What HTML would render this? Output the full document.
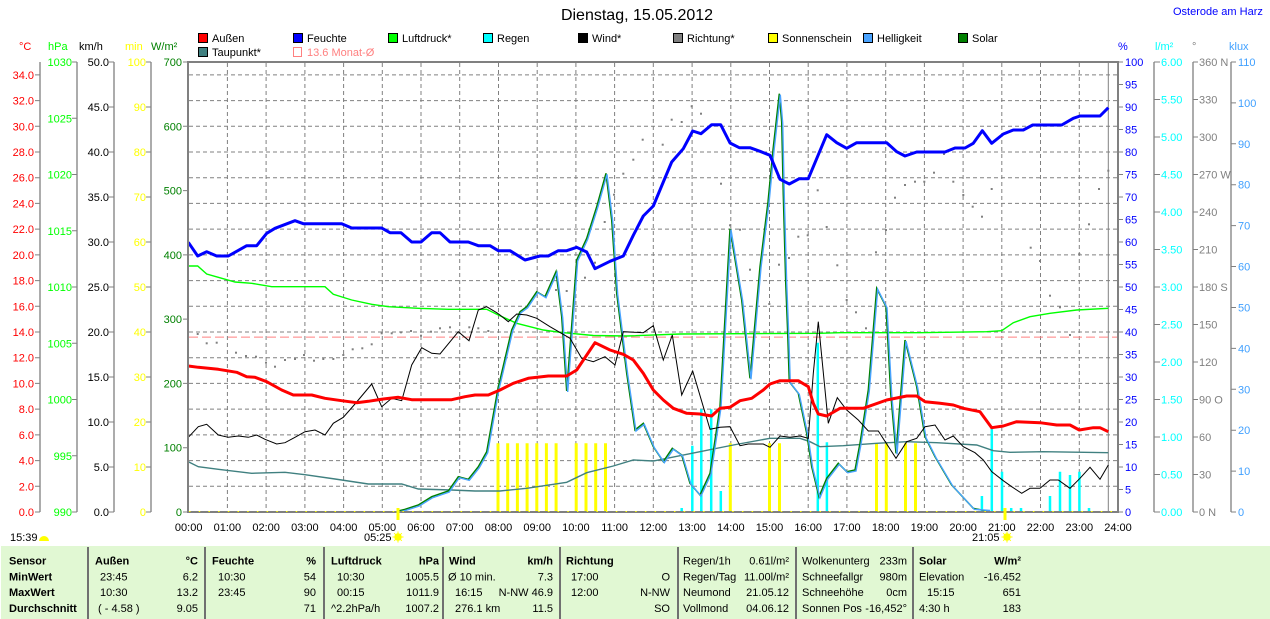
<!DOCTYPE html>
<html><head><meta charset="utf-8"><style>
html,body{margin:0;padding:0;background:#fff;}
svg{display:block;font-family:"Liberation Sans",sans-serif;}
</style></head><body>
<svg width="1270" height="619" viewBox="0 0 1270 619" xmlns="http://www.w3.org/2000/svg">
<rect width="1270" height="619" fill="#fff"/>
<!-- title -->
<text x="637" y="20" font-size="16" text-anchor="middle" fill="#000">Dienstag, 15.05.2012</text>
<text x="1173" y="15" font-size="11" fill="#0000ff">Osterode am Harz</text>

<!-- legend -->
<g font-size="11" stroke-width="1">
<rect x="198.5" y="33.5" width="9" height="9" fill="#ff0000" stroke="#000"/><text x="212" y="42">Außen</text>
<rect x="293.5" y="33.5" width="9" height="9" fill="#0000ff" stroke="#000"/><text x="307" y="42">Feuchte</text>
<rect x="388.5" y="33.5" width="9" height="9" fill="#00ff00" stroke="#000"/><text x="402" y="42">Luftdruck*</text>
<rect x="483.5" y="33.5" width="9" height="9" fill="#00ffff" stroke="#000"/><text x="497" y="42">Regen</text>
<rect x="578.5" y="33.5" width="9" height="9" fill="#000" stroke="#000"/><text x="592" y="42">Wind*</text>
<rect x="673.5" y="33.5" width="9" height="9" fill="#808080" stroke="#000"/><text x="687" y="42">Richtung*</text>
<rect x="768.5" y="33.5" width="9" height="9" fill="#ffff00" stroke="#000"/><text x="782" y="42">Sonnenschein</text>
<rect x="863.5" y="33.5" width="9" height="9" fill="#4aa3ff" stroke="#000"/><text x="877" y="42">Helligkeit</text>
<rect x="958.5" y="33.5" width="9" height="9" fill="#008000" stroke="#000"/><text x="972" y="42">Solar</text>
<rect x="198.5" y="47.5" width="9" height="9" fill="#408080" stroke="#000"/><text x="212" y="56">Taupunkt*</text>
<rect x="293.5" y="47.5" width="8" height="9" fill="none" stroke="#ff8080"/><text x="307" y="56" fill="#ff8080">13.6 Monat-Ø</text>
</g>

<!-- unit labels -->
<g font-size="11">
<text x="19" y="50" fill="#ff0000">°C</text>
<text x="48" y="50" fill="#00ff00">hPa</text>
<text x="79" y="50" fill="#000">km/h</text>
<text x="125" y="50" fill="#ffff00">min</text>
<text x="151" y="50" fill="#008000">W/m²</text>
<text x="1118" y="50" fill="#0000ff">%</text>
<text x="1155" y="50" fill="#00ffff">l/m²</text>
<text x="1192" y="50" fill="#808080">°</text>
<text x="1229" y="50" fill="#40a0ff">klux</text>
</g>

<!-- axis lines -->
<g stroke="#808080" stroke-width="1.3">
<line x1="40" y1="62" x2="40" y2="512"/>
<line x1="77" y1="62" x2="77" y2="512"/>
<line x1="114" y1="62" x2="114" y2="512"/>
<line x1="151" y1="62" x2="151" y2="512"/>
<line x1="1154" y1="62" x2="1154" y2="512"/>
<line x1="1193" y1="62" x2="1193" y2="512"/>
<line x1="1231" y1="62" x2="1231" y2="512"/>
</g>

<!-- gridlines -->
<g stroke="#808080" stroke-width="1" stroke-dasharray="4 3">
<line x1="189" x2="1117" y1="486.3" y2="486.3"/><line x1="189" x2="1117" y1="460.6" y2="460.6"/>
<line x1="189" x2="1117" y1="434.9" y2="434.9"/><line x1="189" x2="1117" y1="409.1" y2="409.1"/>
<line x1="189" x2="1117" y1="383.4" y2="383.4"/><line x1="189" x2="1117" y1="357.7" y2="357.7"/>
<line x1="189" x2="1117" y1="332" y2="332"/><line x1="189" x2="1117" y1="306.3" y2="306.3"/>
<line x1="189" x2="1117" y1="280.6" y2="280.6"/><line x1="189" x2="1117" y1="254.9" y2="254.9"/>
<line x1="189" x2="1117" y1="229.1" y2="229.1"/><line x1="189" x2="1117" y1="203.4" y2="203.4"/>
<line x1="189" x2="1117" y1="177.7" y2="177.7"/><line x1="189" x2="1117" y1="152" y2="152"/>
<line x1="189" x2="1117" y1="126.3" y2="126.3"/><line x1="189" x2="1117" y1="100.6" y2="100.6"/>
<line x1="189" x2="1117" y1="74.9" y2="74.9"/>
<line y1="63" y2="511" x1="227.4" x2="227.4"/><line y1="63" y2="511" x1="266.1" x2="266.1"/>
<line y1="63" y2="511" x1="304.9" x2="304.9"/><line y1="63" y2="511" x1="343.6" x2="343.6"/>
<line y1="63" y2="511" x1="382.3" x2="382.3"/><line y1="63" y2="511" x1="421" x2="421"/>
<line y1="63" y2="511" x1="459.7" x2="459.7"/><line y1="63" y2="511" x1="498.5" x2="498.5"/>
<line y1="63" y2="511" x1="537.2" x2="537.2"/><line y1="63" y2="511" x1="575.9" x2="575.9"/>
<line y1="63" y2="511" x1="614.6" x2="614.6"/><line y1="63" y2="511" x1="653.3" x2="653.3"/>
<line y1="63" y2="511" x1="692.1" x2="692.1"/><line y1="63" y2="511" x1="730.8" x2="730.8"/>
<line y1="63" y2="511" x1="769.5" x2="769.5"/><line y1="63" y2="511" x1="808.2" x2="808.2"/>
<line y1="63" y2="511" x1="846.9" x2="846.9"/><line y1="63" y2="511" x1="885.7" x2="885.7"/>
<line y1="63" y2="511" x1="924.4" x2="924.4"/><line y1="63" y2="511" x1="963.1" x2="963.1"/>
<line y1="63" y2="511" x1="1001.8" x2="1001.8"/><line y1="63" y2="511" x1="1040.5" x2="1040.5"/>
<line y1="63" y2="511" x1="1079.3" x2="1079.3"/>
</g>
<line x1="1108.3" y1="62" x2="1108.3" y2="512" stroke="#808080" stroke-width="1"/>

<!-- ticks -->
<g stroke="#808080" stroke-width="1">
<path d="M35 512H40M35 486.3H40M35 460.6H40M35 434.9H40M35 409.1H40M35 383.4H40M35 357.7H40M35 332H40M35 306.3H40M35 280.6H40M35 254.9H40M35 229.1H40M35 203.4H40M35 177.7H40M35 152H40M35 126.3H40M35 100.6H40M35 74.9H40"/>
<path d="M72 512H77M72 455.75H77M72 399.5H77M72 343.25H77M72 287H77M72 230.75H77M72 174.5H77M72 118.25H77M72 62H77"/>
<path d="M109 512H114M109 467H114M109 422H114M109 377H114M109 332H114M109 287H114M109 242H114M109 197H114M109 152H114M109 107H114M109 62H114"/>
<path d="M146 512H151M146 467H151M146 422H151M146 377H151M146 332H151M146 287H151M146 242H151M146 197H151M146 152H151M146 107H151M146 62H151"/>
<path d="M183 512H188M183 447.7H188M183 383.4H188M183 319.1H188M183 254.9H188M183 190.6H188M183 126.3H188M183 62H188"/>
<path d="M1118 512H1123M1118 489.5H1123M1118 467H1123M1118 444.5H1123M1118 422H1123M1118 399.5H1123M1118 377H1123M1118 354.5H1123M1118 332H1123M1118 309.5H1123M1118 287H1123M1118 264.5H1123M1118 242H1123M1118 219.5H1123M1118 197H1123M1118 174.5H1123M1118 152H1123M1118 129.5H1123M1118 107H1123M1118 84.5H1123M1118 62H1123"/>
<path d="M1154 512H1160M1154 474.5H1160M1154 437H1160M1154 399.5H1160M1154 362H1160M1154 324.5H1160M1154 287H1160M1154 249.5H1160M1154 212H1160M1154 174.5H1160M1154 137H1160M1154 99.5H1160M1154 62H1160"/>
<path d="M1193 512H1198M1193 474.5H1198M1193 437H1198M1193 399.5H1198M1193 362H1198M1193 324.5H1198M1193 287H1198M1193 249.5H1198M1193 212H1198M1193 174.5H1198M1193 137H1198M1193 99.5H1198M1193 62H1198"/>
<path d="M1231 512H1236M1231 471.1H1236M1231 430.2H1236M1231 389.3H1236M1231 348.4H1236M1231 307.5H1236M1231 266.5H1236M1231 225.6H1236M1231 184.7H1236M1231 143.8H1236M1231 102.9H1236M1231 62H1236"/>
</g>

<g font-size="11" text-anchor="end" fill="#ff0000">
<text x="34" y="516">0.0</text><text x="34" y="490.3">2.0</text><text x="34" y="464.6">4.0</text><text x="34" y="438.9">6.0</text>
<text x="34" y="413.1">8.0</text><text x="34" y="387.4">10.0</text><text x="34" y="361.7">12.0</text><text x="34" y="336">14.0</text>
<text x="34" y="310.3">16.0</text><text x="34" y="284.6">18.0</text><text x="34" y="258.9">20.0</text><text x="34" y="233.1">22.0</text>
<text x="34" y="207.4">24.0</text><text x="34" y="181.7">26.0</text><text x="34" y="156">28.0</text><text x="34" y="130.3">30.0</text>
<text x="34" y="104.6">32.0</text><text x="34" y="78.9">34.0</text>
</g>
<g font-size="11" text-anchor="end" fill="#00ff00">
<text x="72" y="516">990</text><text x="72" y="459.75">995</text><text x="72" y="403.5">1000</text><text x="72" y="347.25">1005</text>
<text x="72" y="291">1010</text><text x="72" y="234.75">1015</text><text x="72" y="178.5">1020</text><text x="72" y="122.25">1025</text><text x="72" y="66">1030</text>
</g>
<g font-size="11" text-anchor="end" fill="#000">
<text x="109" y="516">0.0</text><text x="109" y="471">5.0</text><text x="109" y="426">10.0</text><text x="109" y="381">15.0</text>
<text x="109" y="336">20.0</text><text x="109" y="291">25.0</text><text x="109" y="246">30.0</text><text x="109" y="201">35.0</text>
<text x="109" y="156">40.0</text><text x="109" y="111">45.0</text><text x="109" y="66">50.0</text>
</g>
<g font-size="11" text-anchor="end" fill="#ffff00">
<text x="146" y="516">0</text><text x="146" y="471">10</text><text x="146" y="426">20</text><text x="146" y="381">30</text>
<text x="146" y="336">40</text><text x="146" y="291">50</text><text x="146" y="246">60</text><text x="146" y="201">70</text>
<text x="146" y="156">80</text><text x="146" y="111">90</text><text x="146" y="66">100</text>
</g>
<g font-size="11" text-anchor="end" fill="#008000">
<text x="182" y="516">0</text><text x="182" y="451.7">100</text><text x="182" y="387.4">200</text><text x="182" y="323.1">300</text>
<text x="182" y="258.9">400</text><text x="182" y="194.6">500</text><text x="182" y="130.3">600</text><text x="182" y="66">700</text>
</g>
<g font-size="11" fill="#0000ff">
<text x="1125" y="516">0</text><text x="1125" y="493.5">5</text><text x="1125" y="471">10</text><text x="1125" y="448.5">15</text>
<text x="1125" y="426">20</text><text x="1125" y="403.5">25</text><text x="1125" y="381">30</text><text x="1125" y="358.5">35</text>
<text x="1125" y="336">40</text><text x="1125" y="313.5">45</text><text x="1125" y="291">50</text><text x="1125" y="268.5">55</text>
<text x="1125" y="246">60</text><text x="1125" y="223.5">65</text><text x="1125" y="201">70</text><text x="1125" y="178.5">75</text>
<text x="1125" y="156">80</text><text x="1125" y="133.5">85</text><text x="1125" y="111">90</text><text x="1125" y="88.5">95</text>
<text x="1125" y="66">100</text>
</g>
<g font-size="11" fill="#00ffff">
<text x="1161" y="516">0.00</text><text x="1161" y="478.5">0.50</text><text x="1161" y="441">1.00</text><text x="1161" y="403.5">1.50</text>
<text x="1161" y="366">2.00</text><text x="1161" y="328.5">2.50</text><text x="1161" y="291">3.00</text><text x="1161" y="253.5">3.50</text>
<text x="1161" y="216">4.00</text><text x="1161" y="178.5">4.50</text><text x="1161" y="141">5.00</text><text x="1161" y="103.5">5.50</text>
<text x="1161" y="66">6.00</text>
</g>
<g font-size="11" fill="#808080">
<text x="1199" y="516">0 N</text><text x="1199" y="478.5">30</text><text x="1199" y="441">60</text><text x="1199" y="403.5">90 O</text>
<text x="1199" y="366">120</text><text x="1199" y="328.5">150</text><text x="1199" y="291">180 S</text><text x="1199" y="253.5">210</text>
<text x="1199" y="216">240</text><text x="1199" y="178.5">270 W</text><text x="1199" y="141">300</text><text x="1199" y="103.5">330</text>
<text x="1199" y="66">360 N</text>
</g>
<g font-size="11" fill="#40a0ff">
<text x="1238" y="516">0</text><text x="1238" y="475.1">10</text><text x="1238" y="434.2">20</text><text x="1238" y="393.3">30</text>
<text x="1238" y="352.4">40</text><text x="1238" y="311.5">50</text><text x="1238" y="270.5">60</text><text x="1238" y="229.6">70</text>
<text x="1238" y="188.7">80</text><text x="1238" y="147.8">90</text><text x="1238" y="106.9">100</text><text x="1238" y="66">110</text>
</g>

<!-- time labels -->
<g font-size="11" text-anchor="middle" fill="#000">
<text x="188.7" y="531">00:00</text><text x="227.4" y="531">01:00</text><text x="266.1" y="531">02:00</text><text x="304.9" y="531">03:00</text>
<text x="343.6" y="531">04:00</text><text x="382.3" y="531">05:00</text><text x="421" y="531">06:00</text><text x="459.7" y="531">07:00</text>
<text x="498.5" y="531">08:00</text><text x="537.2" y="531">09:00</text><text x="575.9" y="531">10:00</text><text x="614.6" y="531">11:00</text>
<text x="653.3" y="531">12:00</text><text x="692.1" y="531">13:00</text><text x="730.8" y="531">14:00</text><text x="769.5" y="531">15:00</text>
<text x="808.2" y="531">16:00</text><text x="846.9" y="531">17:00</text><text x="885.7" y="531">18:00</text><text x="924.4" y="531">19:00</text>
<text x="963.1" y="531">20:00</text><text x="1001.8" y="531">21:00</text><text x="1040.5" y="531">22:00</text><text x="1079.3" y="531">23:00</text>
<text x="1118" y="531">24:00</text>
</g>

<!-- pink monthly average -->
<line x1="189" y1="337.1" x2="1117" y2="337.1" stroke="#ff8080" stroke-width="1" stroke-dasharray="9 4"/>

<!-- sunshine bars -->
<g stroke="#ffff00" stroke-width="3">
<path d="M498 511V443.3M507.7 511V443.3M517.4 511V443.3M527.1 511V443.3M536.8 511V443.3M546.4 511V443.3M556.1 511V443.3M576.2 511V443.3M586 511V443.3M595.7 511V443.3M605.5 511V443.3M730.3 511V443.3M769.5 511V443.3M779.5 511V443.3M876.5 511V443.3M886.3 511V443.3M905.5 511V443.3M915.5 511V443.3"/>
</g>
<!-- rain bars -->
<g stroke="#00ffff" stroke-width="2.5">
<path d="M681.7 511V508M692.3 511V445.7M701.3 511V409.3M711.2 511V409.3M720.8 511V491M817.8 511V342.7M826.9 511V442.3M981.9 511V496M991.8 511V428.3M1002 511V471.7M1011.2 511V508M1021 511V508M1050 511V496M1060 511V471.7M1070 511V475M1079.4 511V471.7M1089 511V508"/>
</g>

<!-- direction dots -->
<g fill="#808080">
<rect x="196.7" y="333" width="2" height="2"/><rect x="205.7" y="342.3" width="2" height="2"/><rect x="215.7" y="341.7" width="2" height="2"/>
<rect x="235" y="351.7" width="2" height="2"/><rect x="245" y="355" width="2" height="2"/><rect x="255" y="355.7" width="2" height="2"/>
<rect x="265" y="361.7" width="2" height="2"/><rect x="274" y="365.7" width="2" height="2"/><rect x="284" y="359" width="2" height="2"/>
<rect x="294" y="358" width="2" height="2"/><rect x="303" y="354" width="2" height="2"/><rect x="313" y="359.7" width="2" height="2"/>
<rect x="322.3" y="358" width="2" height="2"/><rect x="332.3" y="358" width="2" height="2"/><rect x="342.3" y="354" width="2" height="2"/>
<rect x="351.7" y="348.3" width="2" height="2"/><rect x="361.3" y="347.3" width="2" height="2"/><rect x="370.7" y="343.3" width="2" height="2"/>
<rect x="380.7" y="332.3" width="2" height="2"/><rect x="390.7" y="332.3" width="2" height="2"/><rect x="400" y="331.3" width="2" height="2"/>
<rect x="410" y="330" width="2" height="2"/><rect x="420" y="334.7" width="2" height="2"/><rect x="430" y="330.7" width="2" height="2"/>
<rect x="439" y="327.3" width="2" height="2"/><rect x="449" y="326.3" width="2" height="2"/><rect x="458.3" y="331.7" width="2" height="2"/>
<rect x="468.3" y="326.3" width="2" height="2"/><rect x="477.3" y="327.3" width="2" height="2"/><rect x="487.3" y="330" width="2" height="2"/>
<rect x="555" y="289" width="2" height="2"/><rect x="565.7" y="290" width="2" height="2"/><rect x="584" y="276.7" width="2" height="2"/>
<rect x="594" y="261.7" width="2" height="2"/><rect x="603.7" y="221" width="2" height="2"/><rect x="613" y="193.7" width="2" height="2"/>
<rect x="622.3" y="172.7" width="2" height="2"/><rect x="632.3" y="158.7" width="2" height="2"/><rect x="641.7" y="138.7" width="2" height="2"/>
<rect x="661.7" y="143.7" width="2" height="2"/><rect x="670.7" y="118.7" width="2" height="2"/><rect x="680.7" y="121" width="2" height="2"/>
<rect x="690.7" y="105.3" width="2" height="2"/><rect x="700" y="112.7" width="2" height="2"/><rect x="720" y="182.7" width="2" height="2"/>
<rect x="729" y="224.3" width="2" height="2"/><rect x="739" y="228.7" width="2" height="2"/><rect x="749" y="268.7" width="2" height="2"/>
<rect x="768.3" y="303" width="2" height="2"/><rect x="778" y="263.7" width="2" height="2"/><rect x="788" y="257" width="2" height="2"/>
<rect x="797.3" y="235.7" width="2" height="2"/><rect x="806.7" y="234.3" width="2" height="2"/><rect x="816.7" y="189.3" width="2" height="2"/>
<rect x="825.7" y="226" width="2" height="2"/><rect x="836.3" y="264.3" width="2" height="2"/><rect x="845.7" y="299" width="2" height="2"/>
<rect x="855" y="311.3" width="2" height="2"/><rect x="865" y="327.3" width="2" height="2"/><rect x="875" y="251.3" width="2" height="2"/>
<rect x="885" y="229" width="2" height="2"/><rect x="894" y="196.7" width="2" height="2"/><rect x="904" y="184" width="2" height="2"/>
<rect x="914" y="180.7" width="2" height="2"/><rect x="923.3" y="180.7" width="2" height="2"/><rect x="933" y="171.7" width="2" height="2"/>
<rect x="943" y="153" width="2" height="2"/><rect x="952.3" y="180.7" width="2" height="2"/><rect x="962.3" y="194" width="2" height="2"/>
<rect x="971.7" y="205.7" width="2" height="2"/><rect x="981" y="215.7" width="2" height="2"/><rect x="990.7" y="188" width="2" height="2"/>
<rect x="1029.7" y="246.7" width="2" height="2"/><rect x="1039" y="260" width="2" height="2"/><rect x="1049" y="294.7" width="2" height="2"/>
<rect x="1059" y="306.3" width="2" height="2"/><rect x="1069" y="334" width="2" height="2"/><rect x="1078.3" y="253" width="2" height="2"/>
<rect x="1088" y="223.3" width="2" height="2"/><rect x="1098" y="188" width="2" height="2"/><rect x="1107.3" y="169.7" width="2" height="2"/>
</g>

<!-- Taupunkt -->
<polyline fill="none" stroke="#408080" stroke-width="1.4" points="188.3,461.7 198.3,466.7 218.3,469.3 251.7,473.3 285,472.3 305,474.7 335,479 368.3,484 401.7,484 418.3,489 451.7,490 475,491 500,491 526.7,488.3 566.7,482.3 586.7,472.7 613.3,466 633.3,460 653.3,461 700,451.7 733.3,445 770,438.3 800,438.3 810,441.7 820,446.7 843.3,445.7 876.7,443.3 906.7,441.7 936.7,442.7 976.7,445 993.3,450.7 1010,452.3 1043.3,451.7 1108.3,452.7"/>

<!-- Luftdruck -->
<polyline fill="none" stroke="#00ff00" stroke-width="1.4" points="188.3,266 197.7,266 206.7,274 218.3,277.3 235,282 251.7,283.3 271.7,286.7 325,286.7 333.3,294.3 351.7,300 371.7,304.3 388.3,306.7 418.3,308.3 448.3,309.3 486.7,309.3 498.3,315 516.7,323.3 543.3,330 560,332.3 593.3,335.5 626.7,336 680,334 820,333.3 840,332.7 920,332.7 986.7,331.7 1001.7,330.7 1013.3,322.7 1030,316.7 1050,313.3 1076.7,310 1108.3,308.3"/>

<!-- Solar & Helligkeit -->
<polyline fill="none" stroke="#008000" stroke-width="1.5" points="398.3,511 405,509.3 418.3,505 431.7,496.7 448.3,491 458.3,476.7 468.3,479.3 478.3,466.7 486.7,451.7 498.3,386.7 500,380 511.7,330 520,311.7 526.7,306.7 536.7,291.7 545,296.7 556,271.7 561.7,316.7 566.7,391 576.7,260 586.7,238.3 596.7,206.7 606,173.3 611.7,220 616.7,293.3 626.7,373.3 635,430 643.3,423.3 653.3,446.7 663.3,461.7 672.3,448.3 681.7,455 690,483.3 700,495 710,473.3 720,406.7 730,228.7 741.7,300 750,378.3 760,266.7 768,202 773,150 779.3,93.7 781.7,122 783.3,195 785.7,282 787.7,333 789.3,381.7 798.3,393.3 806.7,433.3 811.7,466.7 819,496.7 826.7,478.3 838.3,463.3 846.7,471.7 855,470 860,443.3 868.3,390 876.7,288.3 886,306.7 890.7,393.3 896,453.3 905,340 916.7,386.7 925,436.7 935,456.7 951.7,485 973.3,508.3 990,511.7"/>
<polyline fill="none" stroke="#4aa3ff" stroke-width="1.4" transform="translate(1,1)" points="398.3,511 405,509.3 418.3,505 431.7,496.7 448.3,491 458.3,476.7 468.3,479.3 478.3,466.7 486.7,451.7 498.3,386.7 500,380 511.7,330 520,311.7 526.7,306.7 536.7,291.7 545,296.7 556,271.7 561.7,316.7 566.7,391 576.7,260 586.7,238.3 596.7,206.7 606,173.3 611.7,220 616.7,293.3 626.7,373.3 635,430 643.3,423.3 653.3,446.7 663.3,461.7 672.3,448.3 681.7,455 690,483.3 700,495 710,473.3 720,406.7 730,228.7 741.7,300 750,378.3 760,266.7 768,202 773,150 779.3,93.7 781.7,122 783.3,195 785.7,282 787.7,333 789.3,381.7 798.3,393.3 806.7,433.3 811.7,466.7 819,496.7 826.7,478.3 838.3,463.3 846.7,471.7 855,470 860,443.3 868.3,390 876.7,288.3 886,306.7 890.7,393.3 896,453.3 905,340 916.7,386.7 925,436.7 935,456.7 951.7,485 973.3,508.3 989,509.5"/>

<!-- Wind -->
<polyline fill="none" stroke="#000" stroke-width="1" points="188.3,437.3 198.3,426.7 206.7,424.3 218.3,435 228.3,437.3 238.3,436 248.3,437.3 256.7,435 265,439.3 276.7,444 285,442.7 295,437.3 305,431.7 315,430 325,435 333.3,423.3 343.3,417.3 355,404 371.7,384 381.7,406.7 391.7,398.3 401.7,400.7 411.7,365 421.7,347.7 431.7,353.3 440,354 458.3,331.7 469,340.7 478.3,310 486.7,306.7 496.7,312.7 500,315 508.3,321.7 516.7,314 526.7,315 536.7,318.3 550,326.7 570,338.3 581.7,358.3 593.3,361.7 605,356.7 615,365 623.3,331.7 643.3,332.7 653.3,325.7 663.3,360 672.3,335 681.7,395 692.7,371 710,429.3 720,427.3 730,426.7 740,445.7 748.3,444 763.3,444 770,447.3 780,436 790,437.3 800,436 808.3,438.3 813.3,373.3 818.3,321.7 828.3,423.3 837.3,397.7 846.7,410 858.3,420 868.3,431 878.3,431 896,458.3 906.7,441.7 916.7,438.3 925,426.7 935,425 945,440 953.3,436 963.3,446.7 975,452.7 983.3,460 991.7,471.7 1003.3,480.7 1011.7,486.7 1021.7,493.3 1030,488.3 1040,488.3 1050,480 1058.3,480 1070,488.3 1080,478.3 1090,467.3 1100,479.3 1108.3,465"/>

<!-- Außen -->
<polyline fill="none" stroke="#ff0000" stroke-width="3" stroke-linejoin="round" points="188.3,366 198.3,367.3 218.3,369.3 236.7,372.3 246.7,376.7 255,377.3 266.7,381.7 281.7,390 293.3,395 311.7,395 325,398.3 341.7,400.7 356.7,402.7 368.3,401.3 383.3,399 398.3,397.3 411.7,399.7 451.7,399.7 465,396.7 475,395 488.3,395 500,390 513.3,383.3 528.3,378.3 548.3,376 566.7,376 576.7,370 595,342.7 610,350 623.3,354.3 633.3,360 643.3,373.3 653.3,390 663.3,400 673.3,408.3 686.7,413.3 700,414 711.7,416 720,408.3 730,407.3 740,400.7 751.7,398.3 763.3,390 770,384 780,380.7 798.3,380.7 808.3,386.7 813.3,403.3 818.3,414 826.7,416 840,408.3 863.3,408.3 886.7,400 906.7,396 916.7,396 925,401.7 940,403.3 953.3,405 963.3,408.3 980,411.7 991.7,427.7 1003.3,426 1016.7,421.7 1040,422.7 1056.7,425 1070,425 1079.3,430 1093.3,427.7 1100,427.7 1108.3,431.7"/>

<!-- Feuchte -->
<polyline fill="none" stroke="#0000ff" stroke-width="3" stroke-linejoin="round" points="188.3,242.3 197.7,256 206.7,251.7 216.7,256 228.3,256 246.7,245.7 256.7,245.7 266.7,233.3 275,228.3 295,220.7 303.3,223.7 341.7,223.7 351.7,228 381.7,228 390,232.7 401,232.7 411.7,242 421,242 431.7,232.7 440,232.7 450,242 468.3,242 478.3,245.7 490,245.7 498.3,250.7 510,250.7 525,260 540,256 548.3,256 558.3,250.7 566.7,250.7 576.7,247.3 586.7,252 595,268.7 610,261.3 623.3,256 633.3,235.3 643.3,216 653.3,206 663.3,182 671.7,162 683.3,148.7 692.7,131 701,133.7 711.7,124.7 720.7,124.7 730,143 739.3,147.7 750,147.7 760,151.3 770,155.3 780,179.3 789.3,184 799.3,178.7 808.3,178.7 826.7,134.7 836.7,142.7 846.7,148.3 856.7,142.7 886.7,142.7 896.7,151.7 905,156 916.7,152 945,152 955,148 965,148 973.3,143.3 982.3,130.7 991.7,143.3 1003.3,134 1013.3,130 1023.3,130 1032.7,125 1061.7,125 1073.3,118.3 1080,116 1100,116 1108.3,107.7"/>

<!-- frame -->
<rect x="188" y="62" width="930" height="450" fill="none" stroke="#808080" stroke-width="2"/>
<line x1="189" y1="511.5" x2="1117" y2="511.5" stroke="#ffff00" stroke-width="1" stroke-dasharray="1.5 8.2"/>

<!-- sunrise/sunset markers -->
<line x1="398" y1="508" x2="398" y2="520" stroke="#ffff00" stroke-width="3"/>
<line x1="1005" y1="508" x2="1005" y2="520" stroke="#ffff00" stroke-width="3"/>

<g font-size="11" fill="#000">
<text x="10" y="541">15:39</text>
<text x="364" y="541">05:25</text>
<text x="972" y="541">21:05</text>
</g>
<path d="M39 541 A5 5 0 0 1 49 541 Z" fill="#ffff00"/>
<g fill="#ffff00" stroke="#ffff00">
<circle cx="398" cy="537" r="3.2"/>
<path d="M398 531.5V542.5M392.5 537H403.5M394.2 533.2L401.8 540.8M401.8 533.2L394.2 540.8" stroke-width="1"/>
<circle cx="1007" cy="537" r="3.2"/>
<path d="M1007 531.5V542.5M1001.5 537H1012.5M1003.2 533.2L1010.8 540.8M1010.8 533.2L1003.2 540.8" stroke-width="1"/>
</g>

<!-- table -->
<rect x="1" y="546" width="1269" height="73" fill="#e1f8d3"/>
<g stroke="#707070" stroke-width="2">
<path d="M88 547V619M205 547V619M324 547V619M443 547V619M560 547V619M678 547V619M796 547V619M913 547V619"/>
</g>
<g font-size="11" font-weight="bold" fill="#000">
<text x="9" y="564.5">Sensor</text>
<text x="9" y="580.3">MinWert</text>
<text x="9" y="596.1">MaxWert</text>
<text x="9" y="611.9">Durchschnitt</text>
<text x="95" y="564.5">Außen</text><text x="198" y="564.5" text-anchor="end">°C</text>
<text x="212" y="564.5">Feuchte</text><text x="316" y="564.5" text-anchor="end">%</text>
<text x="331" y="564.5">Luftdruck</text><text x="439" y="564.5" text-anchor="end">hPa</text>
<text x="449" y="564.5">Wind</text><text x="553" y="564.5" text-anchor="end">km/h</text>
<text x="566" y="564.5">Richtung</text>
<text x="919" y="564.5">Solar</text><text x="1021" y="564.5" text-anchor="end">W/m²</text>
</g>
<g font-size="11" fill="#000">
<text x="100" y="580.3">23:45</text><text x="198" y="580.3" text-anchor="end">6.2</text>
<text x="100" y="596.1">10:30</text><text x="198" y="596.1" text-anchor="end">13.2</text>
<text x="98" y="611.9">( - 4.58 )</text><text x="198" y="611.9" text-anchor="end">9.05</text>
<text x="218" y="580.3">10:30</text><text x="316" y="580.3" text-anchor="end">54</text>
<text x="218" y="596.1">23:45</text><text x="316" y="596.1" text-anchor="end">90</text>
<text x="316" y="611.9" text-anchor="end">71</text>
<text x="337" y="580.3">10:30</text><text x="439" y="580.3" text-anchor="end">1005.5</text>
<text x="337" y="596.1">00:15</text><text x="439" y="596.1" text-anchor="end">1011.9</text>
<text x="331" y="611.9">^2.2hPa/h</text><text x="439" y="611.9" text-anchor="end">1007.2</text>
<text x="448" y="580.3">Ø 10 min.</text><text x="553" y="580.3" text-anchor="end">7.3</text>
<text x="455" y="596.1">16:15</text><text x="553" y="596.1" text-anchor="end">N-NW 46.9</text>
<text x="455" y="611.9">276.1 km</text><text x="553" y="611.9" text-anchor="end">11.5</text>
<text x="571" y="580.3">17:00</text><text x="670" y="580.3" text-anchor="end">O</text>
<text x="571" y="596.1">12:00</text><text x="670" y="596.1" text-anchor="end">N-NW</text>
<text x="670" y="611.9" text-anchor="end">SO</text>
<text x="683" y="564.5">Regen/1h</text><text x="789" y="564.5" text-anchor="end">0.61l/m²</text>
<text x="683" y="580.3">Regen/Tag</text><text x="789" y="580.3" text-anchor="end">11.00l/m²</text>
<text x="683" y="596.1">Neumond</text><text x="789" y="596.1" text-anchor="end">21.05.12</text>
<text x="683" y="611.9">Vollmond</text><text x="789" y="611.9" text-anchor="end">04.06.12</text>
<text x="802" y="564.5">Wolkenunterg</text><text x="907" y="564.5" text-anchor="end">233m</text>
<text x="802" y="580.3">Schneefallgr</text><text x="907" y="580.3" text-anchor="end">980m</text>
<text x="802" y="596.1">Schneehöhe</text><text x="907" y="596.1" text-anchor="end">0cm</text>
<text x="802" y="611.9">Sonnen Pos</text><text x="907" y="611.9" text-anchor="end">-16,452°</text>
<text x="919" y="580.3">Elevation</text><text x="1021" y="580.3" text-anchor="end">-16.452</text>
<text x="927" y="596.1">15:15</text><text x="1021" y="596.1" text-anchor="end">651</text>
<text x="919" y="611.9">4:30 h</text><text x="1021" y="611.9" text-anchor="end">183</text>
</g>
</svg>
</body></html>
